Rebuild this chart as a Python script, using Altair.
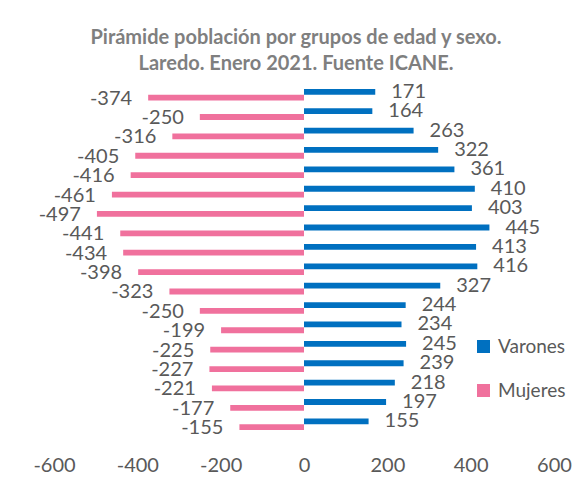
import altair as alt
import pandas as pd

groups = ["85+", "80-84", "75-79", "70-74", "65-69", "60-64", "55-59", "50-54", "45-49",
          "40-44", "35-39", "30-34", "25-29", "20-24", "15-19", "10-14", "5-9", "0-4"]
varones = [171, 164, 263, 322, 361, 410, 403, 445, 413, 416, 327, 244, 234, 245, 239, 218, 197, 155]
mujeres = [-374, -250, -316, -405, -416, -461, -497, -441, -434, -398, -323, -250, -199, -225, -227, -221, -177, -155]
sexes = ["Varones", "Mujeres"]
colors = ["#0070C0", "#F0719D"]
ticks = [-600, -400, -200, 0, 200, 400, 600]

rows = []
for g, v, m in zip(groups, varones, mujeres):
    rows.append({"grupo": g, "sexo": "Varones", "valor": v})
    rows.append({"grupo": g, "sexo": "Mujeres", "valor": m})
df = pd.DataFrame(rows)

FONT = "Lato"
GRAY = "#595959"

y = alt.Y("grupo:N", sort=groups, axis=None,
          scale=alt.Scale(domain=groups, paddingInner=0.4, paddingOuter=0.2))
yoff = alt.YOffset("sexo:N", scale=alt.Scale(domain=sexes, paddingInner=0, paddingOuter=0))
x = alt.X("valor:Q", scale=alt.Scale(domain=[-600, 600], nice=False),
          axis=alt.Axis(values=ticks, title=None, grid=False, domain=False, ticks=False,
                        labelFontSize=20, labelFont=FONT, labelColor=GRAY, labelPadding=21,
                        labelFlush=False, labelBound=False,
                        labelExpr="'' + datum.value"))

base = alt.Chart(df).transform_calculate(label="'' + datum.valor")

bars = base.mark_bar().encode(
    x=x, y=y, yOffset=yoff,
    color=alt.Color("sexo:N", scale=alt.Scale(domain=sexes, range=colors),
                    legend=alt.Legend(title=None, orient="none", legendX=420, legendY=252,
                                      symbolType="square", symbolSize=169,
                                      labelFontSize=19, labelFont=FONT, labelColor=GRAY,
                                      rowPadding=24, labelOffset=5, padding=0,
                                      symbolStrokeWidth=0)),
)

text_v = base.transform_filter("datum.sexo == 'Varones'").mark_text(
    align="left", baseline="middle", dx=16, fontSize=20, font=FONT, color=GRAY
).encode(x="valor:Q", y=y, yOffset=yoff, text="label:N")

text_m = base.transform_filter("datum.sexo == 'Mujeres'").mark_text(
    align="right", baseline="middle", dx=-16, dy=1, fontSize=20, font=FONT, color=GRAY
).encode(x="valor:Q", y=y, yOffset=yoff, text="label:N")

chart = alt.layer(bars, text_v, text_m).properties(
    width=500, height=349,
    title=alt.Title(["Pirámide población por grupos de edad y sexo.",
                     "Laredo. Enero 2021. Fuente ICANE."],
                    fontSize=20, font=FONT, fontWeight="bold", color="#7F7F7F",
                    lineHeight=26, offset=8, anchor="middle", frame="group", dx=-8),
    autosize=alt.AutoSizeParams(type="none"),
    padding={"left": 46, "top": 77, "right": 20, "bottom": 40},
).configure_view(stroke=None)

chart.save("out.html", embed_options={"renderer": "svg", "actions": False})
